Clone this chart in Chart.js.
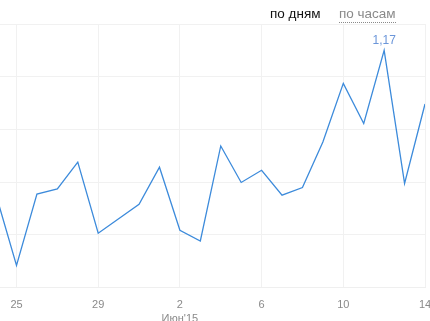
<!DOCTYPE html>
<html>
<head>
<meta charset="utf-8">
<script src="https://cdn.jsdelivr.net/npm/chart.js@4"></script>
<style>
  html, body { margin: 0; padding: 0; background: #fff; }
  #wrap { position: relative; width: 430px; height: 321px; overflow: hidden; }
  canvas { position: absolute; left: 0; top: 0; }
  .sw { position: absolute; top: 6px; font-family: "Liberation Sans", Arial, sans-serif; font-size: 13.5px; line-height: 16px; }
  #d { left: 270px; color: #111; }
  #h { left: 339px; color: #8a8a8a; border-bottom: 1px dotted #8a8a8a; }
</style>
</head>
<body>
<div id="wrap">
  <canvas id="c" width="430" height="321"></canvas>
  <span class="sw" id="d">по дням</span>
  <span class="sw" id="h">по часам</span>
</div>
<script>
// Days: 24 May 2015 .. 14 Jun 2015 (index 0..21)
const days = ["24","25","26","27","28","29","30","31","1","2","3","4","5","6","7","8","9","10","11","12","13","14"];
const values = [0.455, 0.109, 0.461, 0.486, 0.618, 0.267, 0.339, 0.410, 0.593, 0.282, 0.229, 0.698, 0.518, 0.578, 0.455, 0.493, 0.718, 1.007, 0.809, 1.17, 0.513, 0.905];
const tickIndexes = [1, 5, 9, 13, 17, 21];
const tickLabels = ["25", "29", ["2", "Июн'15"], "6", "10", "14"];
const peakLabel = "1,17";

const points = values.map((v, i) => ({ x: i, y: v }));

const peakPlugin = {
  id: 'peak',
  afterDatasetsDraw(chart) {
    const meta = chart.getDatasetMeta(0);
    let mi = 0;
    values.forEach((v, i) => { if (v > values[mi]) mi = i; });
    const p = meta.data[mi];
    const ctx = chart.ctx;
    ctx.save();
    ctx.font = '12px "Liberation Sans", Arial, sans-serif';
    ctx.fillStyle = '#6b96d9';
    ctx.textAlign = 'center';
    ctx.textBaseline = 'alphabetic';
    ctx.fillText(peakLabel, p.x, p.y - 6);
    ctx.restore();
  }
};

new Chart(document.getElementById('c'), {
  type: 'line',
  data: {
    datasets: [{
      data: points,
      borderColor: '#3d8bdb',
      borderWidth: 1.3,
      pointRadius: 0,
      tension: 0,
      fill: false
    }]
  },
  options: {
    responsive: false,
    animation: false,
    layout: { padding: { top: 24, right: 5, left: 0, bottom: -15 } },
    plugins: { legend: { display: false }, tooltip: { enabled: false } },
    scales: {
      x: {
        type: 'linear',
        min: 0.192,
        max: 21,
        afterBuildTicks(scale) { scale.ticks = tickIndexes.map(v => ({ value: v })); },
        afterFit(scale) { scale.paddingLeft = 0; scale.paddingRight = 0; },
        ticks: {
          autoSkip: false,
          maxRotation: 0,
          padding: 10,
          color: '#8a8a8a',
          font: { family: '"Liberation Sans", Arial, sans-serif', size: 11, lineHeight: 1.3 },
          callback(value) { const k = tickIndexes.indexOf(value); return k >= 0 ? tickLabels[k] : ''; }
        },
        grid: { color: '#f1f1f1', drawTicks: false, lineWidth: 1 },
        border: { display: true, color: '#efefef' }
      },
      y: {
        min: 0,
        max: 1.3,
        ticks: { display: false, stepSize: 0.26 },
        grid: { color: '#f1f1f1', drawTicks: false },
        border: { display: false }
      }
    }
  },
  plugins: [peakPlugin]
});
</script>
</body>
</html>
